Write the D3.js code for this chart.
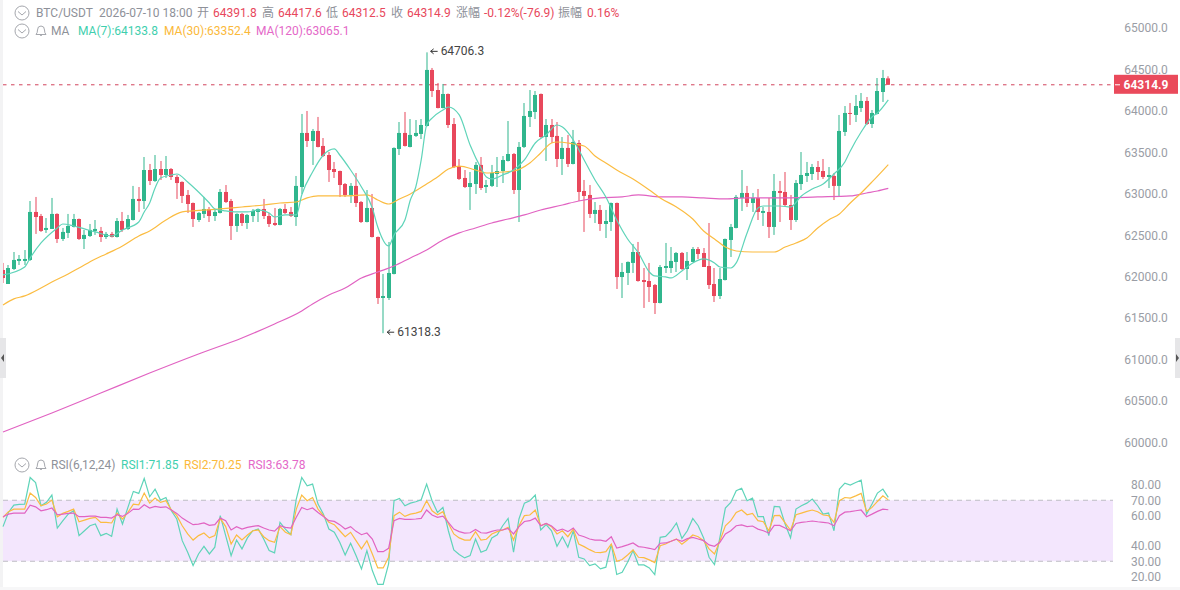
<!DOCTYPE html>
<html>
<head>
<meta charset="utf-8">
<title>BTC/USDT</title>
<script src="https://cdn.jsdelivr.net/npm/d3@7/dist/d3.min.js"></script>
<style>
  html, body { margin: 0; padding: 0; background: #fff; overflow: hidden; }
  svg { display: block; font-family: Roboto, "Noto Sans CJK SC", sans-serif; }
</style>
</head>
<body>
<svg id="chart" width="1180" height="590"></svg>
<script>
// OHLC for each hourly candle, oldest first
const opens = [62081,61912,62093,62190,62190,62202,62781,62732,62564,62576,62757,62455,62528,62600,62696,62455,62491,62552,62552,62479,62516,62479,62672,62576,62684,62938,62913,63287,63155,63299,63227,63299,63203,63143,62986,62889,62684,62757,62817,62732,62769,63022,62913,62612,62757,62648,62732,62781,62817,62732,62648,62624,62817,62781,62720,63082,63734,63637,63758,63577,63468,63299,63275,63118,62986,63095,62901,62660,62829,62479,61743,61743,62033,63541,63734,63565,63698,63722,63818,64494,64252,64035,64204,63842,63335,63191,63082,63118,63348,63082,63095,63239,63275,63396,63480,63046,63565,63927,63987,64204,63685,63830,63698,63420,63553,63360,63613,63034,62986,62757,62805,62636,62660,62889,61996,62045,62166,62298,61960,61948,61900,61683,62105,62105,62178,62286,62093,62178,62334,62286,62129,61912,61767,61960,62443,62588,62950,63010,62889,62950,62769,62781,62600,63034,63022,62865,62684,63118,63215,63239,63323,63275,63203,63215,63095,63746,63975,63951,64035,64120,63842,63963,64228,64391.8];
const highs = [62166,62141,62298,62262,62322,62913,62962,62757,62708,62950,62765,62588,62757,62757,62702,62564,62636,62684,62600,62540,62540,62708,62781,62745,63095,63082,63444,63360,63468,63396,63456,63311,63227,63150,63046,62895,62781,62962,62841,62817,63058,63106,62938,62765,62769,62757,62817,62823,62938,62769,62829,62829,62877,62841,63215,63963,63999,63782,63927,63673,63504,63384,63280,63130,63130,63251,62913,63046,62998,62485,62033,62419,63560,63866,63987,63902,63890,63902,64706.3,64518,64337,64325,64210,63914,63420,63287,63263,63384,63444,63167,63348,63444,63456,63878,63492,63625,64095,64252,64240,64210,63902,63902,63866,63685,63710,63770,63649,63167,63106,62901,62865,62805,62895,62895,62166,62184,62395,62419,62105,62166,61912,62141,62407,62358,62298,62298,62298,62358,62358,62346,62648,62105,62105,62460,62636,62986,63287,63095,63010,63058,62841,62950,63239,63155,63263,62986,63167,63504,63384,63360,63396,63420,63323,63251,63951,64059,64095,64192,64216,64168,64011,64397,64494,64417.6];
const lows = [61924,61912,62081,62141,62141,62190,62516,62540,62528,62576,62407,62431,62467,62594,62443,62334,62479,62504,62419,62455,62473,62473,62540,62564,62678,62781,62817,63106,63143,63167,63191,63167,62938,62889,62769,62600,62660,62708,62660,62672,62763,62889,62443,62540,62612,62576,62660,62660,62696,62600,62612,62620,62757,62720,62612,62998,63565,63348,63560,63444,63143,63191,62962,62962,62889,62841,62648,62655,62473,61671,61318.3,61719,62028,63468,63570,63560,63686,63661,63813,64168,64030,64030,63794,63311,63167,63070,62805,62998,63046,63010,63082,63082,63130,63390,62998,62660,63553,63806,63902,63673,63396,63613,63323,63227,63323,63355,62913,62540,62708,62648,62552,62467,62552,61852,61743,61900,62045,61940,61623,61695,61550,61678,62045,62045,62057,62081,61960,62175,62214,62117,61852,61695,61731,61955,62238,62583,62793,62841,62781,62684,62612,62467,62504,62660,62853,62564,62660,63046,63143,63167,63167,63179,63070,62925,62974,63698,63830,63866,63987,63830,63794,63958,64108,64312.5];
const closes = [61984,62105,62202,62214,62214,62781,62720,62552,62588,62757,62455,62540,62612,62696,62455,62504,62564,62576,62479,62516,62479,62672,62564,62696,62938,62913,63287,63155,63299,63227,63299,63203,63130,62974,62877,62696,62769,62817,62732,62781,63022,62901,62612,62757,62648,62745,62793,62817,62732,62636,62624,62817,62769,62732,63095,63734,63637,63758,63565,63456,63287,63263,63106,62986,63095,62889,62660,62829,62479,61743,61767,62045,63553,63734,63577,63710,63734,63830,64494,64240,64035,64204,63830,63323,63179,63082,63130,63348,63070,63106,63251,63275,63408,63480,63046,63565,63939,63999,64192,63685,63830,63685,63420,63553,63360,63625,63022,62974,62757,62805,62636,62672,62889,61996,62057,62178,62298,61948,61936,61876,61683,62117,62129,62190,62286,62093,62190,62334,62274,62117,61900,61767,61972,62455,62600,62962,63010,62889,62950,62781,62793,62600,63034,63010,62865,62684,63130,63227,63251,63323,63263,63203,63227,63095,63758,63975,63963,64059,64120,63842,63975,64240,64397,64314.9];

// Moving averages, sampled at the listed candle numbers
const ma7Index = [0,4,5,7,10,11,13,15,17,20,22,25,26,27,28,29,31,32,34,36,38,39,41,43,45,47,49,50,52,54,55,57,59,61,62,64,66,68,69,71,72,74,75,76,77,78,79,81,82,84,86,88,89,90,92,94,96,98,100,102,103,105,107,109,111,113,115,117,119,120,122,123,125,127,129,131,132,134,135,137,139,140,143,145,147,149,151,153,155,156,158,160,161,163];
const ma7Values = [62021,62117,62226,62407,62588,62636,62612,62576,62540,62491,62564,62660,62781,62889,63070,63191,63227,63239,63143,63022,62889,62817,62793,62781,62781,62805,62769,62720,62745,62745,62986,63263,63468,63541,63468,63287,63082,62829,62600,62371,62504,62684,62925,63082,63408,63830,63914,64011,64047,63951,63589,63311,63203,63179,63227,63287,63408,63613,63710,63830,63806,63649,63408,63167,62962,62684,62455,62286,62057,62009,61997,61985,62069,62166,62214,62166,62117,62105,62166,62528,62829,62853,62853,62841,62974,63058,63118,63239,63384,63517,63746,63927,63975,64133.8];
const ma30Index = [0,2,4,7,9,12,14,17,19,22,25,27,30,33,35,40,44,48,51,54,56,58,63,67,69,71,73,75,78,80,82,84,87,89,92,94,97,99,101,102,105,107,109,111,113,116,119,121,124,127,129,131,133,135,138,142,144,146,148,150,152,154,156,158,160,163];
const ma30Values = [61659,61732,61768,61864,61936,62033,62105,62214,62274,62371,62491,62552,62684,62781,62793,62817,62841,62865,62889,62901,62950,62974,62974,62986,62925,62877,62938,62998,63118,63203,63299,63335,63287,63251,63263,63275,63372,63492,63613,63625,63601,63577,63456,63372,63287,63179,63046,62950,62841,62696,62552,62455,62358,62310,62298,62298,62358,62407,62467,62588,62684,62757,62889,63010,63143,63352.4];
const ma120Index = [0,9,18,27,36,44,50,55,57,60,63,66,69,72,75,78,81,84,87,90,93,96,99,103,106,110,114,117,121,125,129,133,137,143,150,156,159,161,163];
const ma120Values = [60127,60356,60597,60838,61068,61261,61430,61586,61671,61780,61864,61985,62057,62129,62226,62322,62443,62528,62588,62648,62696,62745,62805,62865,62913,62950,62962,62986,62962,62962,62950,62938,62950,62950,62962,62974,63010,63034,63065.1];

// RSI readings, one for each candle
const rsi1 = [52.7,62.0,66.8,67.3,67.5,84.9,81.6,66.4,68.6,73.4,51.8,56.4,60.9,63.1,46.8,50.0,53.3,54.4,46.8,48.3,46.3,64.2,54.4,65.3,75.8,74.5,84.3,72.3,77.3,70.1,71.8,63.1,57.7,43.5,35.9,27.2,34.8,39.8,34.8,39.2,59.9,46.8,33.7,43.9,38.1,45.3,50.0,51.1,44.6,37.0,35.5,55.5,51.1,47.4,70.8,84.9,79.5,80.6,67.5,60.9,51.1,49.0,42.4,34.1,41.8,33.7,25.0,37.0,23.9,14.8,14.8,28.3,69.7,71.2,66.4,68.1,69.0,70.3,80.6,69.7,62.0,65.3,50.0,37.4,34.4,32.2,33.7,44.6,35.9,37.4,45.3,47.4,53.3,58.1,35.9,57.7,68.1,69.7,73.4,50.5,54.0,50.0,39.8,46.1,39.2,50.0,32.6,31.5,27.2,28.3,25.0,26.1,41.3,21.3,22.8,29.3,37.0,27.6,27.6,25.6,21.3,45.7,46.3,50.0,55.1,45.0,50.0,58.1,53.3,45.3,32.6,27.8,45.7,64.9,68.6,76.2,77.9,69.7,71.4,59.2,59.2,46.8,66.0,65.7,54.4,45.3,64.2,66.4,68.1,70.8,66.4,60.9,61.6,50.0,77.3,81.2,79.9,81.6,83.2,60.9,67.5,74.7,77.3,71.85];
const rsi2 = [58.8,62.5,64.2,64.2,64.2,74.7,71.8,66.4,67.5,70.1,59.2,61.4,62.7,64.2,55.9,57.0,58.1,58.8,55.5,55.5,55.1,61.4,57.7,62.0,67.5,67.0,74.7,68.1,71.4,68.6,69.7,63.6,59.9,53.3,47.9,43.9,46.8,48.5,45.3,46.8,58.1,52.7,41.3,47.2,43.9,47.2,50.0,50.5,46.1,43.5,42.4,52.7,49.0,47.4,64.2,73.4,69.7,71.8,64.2,59.9,55.5,54.0,50.0,46.1,49.0,43.5,38.1,43.5,34.8,25.6,25.6,32.6,59.9,62.2,59.4,60.9,61.6,62.7,69.7,63.1,60.5,62.5,54.8,47.9,45.3,43.9,43.9,49.4,43.9,44.4,47.9,49.4,50.5,52.2,43.9,53.3,59.9,60.3,63.6,53.3,54.8,52.7,47.9,50.0,46.1,51.1,41.3,39.6,37.6,35.9,35.7,36.3,41.3,30.0,31.1,34.1,37.4,32.6,32.4,30.9,29.1,40.2,41.3,43.1,44.6,41.1,43.9,47.2,46.1,43.5,38.1,34.8,43.5,53.3,56.6,62.0,63.6,60.5,61.4,56.6,55.9,50.0,59.9,60.1,55.1,50.3,60.5,61.6,62.7,63.6,62.5,60.3,59.9,55.5,69.7,71.8,71.4,72.9,74.5,62.7,65.3,69.2,72.9,70.25];
const rsi3 = [59.2,60.9,61.6,61.6,61.6,66.8,65.7,63.1,63.8,64.9,60.5,60.9,61.4,61.6,59.2,59.2,59.6,59.6,58.8,58.8,58.3,60.5,59.4,61.4,64.2,64.0,67.0,64.9,66.0,65.3,65.7,63.6,61.4,58.3,56.1,54.0,54.4,55.1,53.5,54.0,58.3,56.6,50.5,52.7,51.1,52.2,52.9,53.3,51.8,50.5,49.8,53.3,52.2,51.8,58.8,65.3,63.8,64.9,62.0,59.4,56.6,56.1,54.0,51.1,52.7,49.6,47.4,48.5,44.6,36.3,36.3,38.5,56.6,58.1,57.5,57.5,57.7,58.1,63.6,60.3,58.8,59.6,55.5,51.1,49.4,48.5,48.7,50.9,48.7,48.5,49.6,50.5,50.5,51.6,47.9,52.7,56.1,56.6,58.3,53.3,54.8,53.1,50.0,51.1,49.4,51.8,47.2,46.1,44.6,43.9,43.9,43.1,46.1,38.7,39.6,40.7,42.0,39.6,39.2,38.5,37.6,41.8,42.0,43.1,44.4,43.1,44.8,45.7,44.6,43.5,40.7,39.8,42.4,47.9,50.0,53.3,53.8,52.7,53.1,51.1,50.0,48.5,53.5,53.5,51.8,50.0,54.8,55.5,55.9,56.4,55.9,55.5,55.1,53.3,59.9,62.2,62.5,63.1,63.6,59.2,60.9,62.7,64.2,63.78];

// Axis ticks
const priceTicks = [60000,60500,61000,61500,62000,62500,63000,63500,64000,64500,65000];
const rsiTicks = [20,30,40,60,70,80];
const rsiBand = [30,70];

// Header strings
const symbolLabel = "BTC/USDT";
const timeLabel = "2026-07-10 18:00";
const quoteFields = [["开","64391.8"],["高","64417.6"],["低","64312.5"],["收","64314.9"],["涨幅","-0.12%(-76.9)"],["振幅","0.16%"]];
const lastPrice = 64314.9, maxPrice = 64706.3, minPrice = 61318.3;

const GREEN = "#30b68d", RED = "#e8485c", GREY = "#9a9da5";
const MA7C = "#5fd4b9", MA30C = "#fbbc41", MA120C = "#e163c2";

const svg = d3.select("#chart");
const x = d3.scaleLinear().domain([0, opens.length - 1]).range([3, 888.3]);
const yPrice = d3.scaleLinear().domain([60000, 65000]).range([442.5, 28]);
const yRsi = d3.scaleLinear().domain([20, 80]).range([576.5, 485]);

// Window frame
svg.append("rect").attr("width", 1180).attr("height", 590).attr("fill", "#fff");
svg.append("rect").attr("width", 3).attr("height", 590).attr("fill", "#f3f3f4");
svg.append("rect").attr("y", 587).attr("width", 1180).attr("height", 3).attr("fill", "#f7f7f8");

svg.append("clipPath").attr("id", "plotClip")
  .append("rect").attr("x", 3).attr("y", 0).attr("width", 1110).attr("height", 590);

// Last price guide
svg.append("line")
  .attr("x1", 3).attr("x2", 1114)
  .attr("y1", yPrice(lastPrice)).attr("y2", yPrice(lastPrice))
  .attr("stroke", "#d2435c").attr("stroke-width", 1).attr("stroke-dasharray", "3.5 4.5");

// Candles
const candles = svg.append("g").attr("clip-path", "url(#plotClip)")
  .selectAll("g").data(d3.range(opens.length)).join("g");
const candleColor = i => closes[i] >= opens[i] ? GREEN : RED;
candles.append("rect")
  .attr("x", i => Math.round(x(i)) - 0.5).attr("width", 1)
  .attr("y", i => yPrice(highs[i]))
  .attr("height", i => yPrice(lows[i]) - yPrice(highs[i]))
  .attr("fill", candleColor);
candles.append("rect")
  .attr("x", i => Math.round(x(i)) - 2).attr("width", 4)
  .attr("y", i => yPrice(Math.max(opens[i], closes[i])))
  .attr("height", i => Math.max(1, Math.abs(yPrice(opens[i]) - yPrice(closes[i]))))
  .attr("fill", candleColor);

// Moving averages
const maLine = idx => d3.line().curve(d3.curveMonotoneX)
  .x((d, i) => x(idx[i])).y(d => yPrice(d));
[[ma120Index, ma120Values, MA120C], [ma30Index, ma30Values, MA30C], [ma7Index, ma7Values, MA7C]]
  .forEach(([idx, vals, color]) => {
    svg.append("path").attr("d", maLine(idx)(vals))
      .attr("fill", "none").attr("stroke", color).attr("stroke-width", 1.2);
  });

// High and low markers
function extremeLabel(i, value) {
  const px = x(i), py = yPrice(value) - 1;
  const g = svg.append("g");
  g.append("path")
    .attr("d", `M${px + 11} ${py}H${px + 4}M${px + 7} ${py - 2.5}L${px + 4} ${py}L${px + 7} ${py + 2.5}`)
    .attr("fill", "none").attr("stroke", "#333").attr("stroke-width", 1);
  g.append("text").attr("x", px + 14).attr("y", py + 4)
    .attr("font-size", 12).attr("fill", "#444").text(value.toFixed(1));
}
extremeLabel(closes.length - 86, maxPrice);
extremeLabel(closes.length - 94, minPrice);

// RSI panel
svg.append("rect")
  .attr("x", 3).attr("width", 1110)
  .attr("y", yRsi(rsiBand[1])).attr("height", yRsi(rsiBand[0]) - yRsi(rsiBand[1]))
  .attr("fill", "#f3e6fd");
rsiBand.forEach(v => svg.append("line")
  .attr("x1", 3).attr("x2", 1113).attr("y1", yRsi(v)).attr("y2", yRsi(v))
  .attr("stroke", "#bdbcc4").attr("stroke-width", 1).attr("stroke-dasharray", "5 4"));
const rsiLine = d3.line().x((d, i) => x(i)).y(d => yRsi(d));
[[rsi1, MA7C], [rsi2, MA30C], [rsi3, MA120C]].forEach(([vals, color]) => {
  svg.append("path").attr("d", rsiLine(vals))
    .attr("fill", "none").attr("stroke", color).attr("stroke-width", 1.2);
});

// Value axes
function valueAxis(scale, ticks, fmt) {
  const g = svg.append("g").attr("transform", "translate(1146,0)")
    .call(d3.axisRight(scale).tickValues(ticks).tickSize(0).tickFormat(fmt));
  g.select(".domain").remove();
  g.selectAll("text").attr("x", 0).attr("text-anchor", "middle")
    .attr("font-size", 12).attr("fill", GREY)
    .style("font-family", "Roboto, sans-serif");
}
valueAxis(yPrice, priceTicks, d3.format(".1f"));
valueAxis(yRsi, rsiTicks, d3.format(".2f"));

// Last price tag
const tagY = yPrice(lastPrice);
svg.append("rect").attr("x", 1114).attr("y", tagY - 10).attr("width", 64).attr("height", 19).attr("fill", "#ea4a5b");
svg.append("line").attr("x1", 1115).attr("x2", 1120).attr("y1", tagY).attr("y2", tagY).attr("stroke", "#fff");
svg.append("text").attr("x", 1146).attr("y", tagY + 4).attr("text-anchor", "middle")
  .attr("font-size", 12).attr("font-weight", 700).attr("fill", "#fff").text(lastPrice.toFixed(1));

// Header icons
function chevronIcon(cx, cy) {
  svg.append("circle").attr("cx", cx).attr("cy", cy).attr("r", 7)
    .attr("fill", "none").attr("stroke", "#a5a7ad").attr("stroke-width", 1);
  svg.append("path").attr("d", `M${cx - 4} ${cy - 1.5}L${cx} ${cy + 2}L${cx + 4} ${cy - 1.5}`)
    .attr("fill", "none").attr("stroke", "#a5a7ad").attr("stroke-width", 1);
}
function bellIcon(cx, cy) {
  svg.append("path")
    .attr("d", `M${cx - 5} ${cy + 3.5}Q${cx - 3.5} ${cy + 2} ${cx - 3.5} ${cy - 1}Q${cx - 3.5} ${cy - 5} ${cx} ${cy - 5}Q${cx + 3.5} ${cy - 5} ${cx + 3.5} ${cy - 1}Q${cx + 3.5} ${cy + 2} ${cx + 5} ${cy + 3.5}ZM${cx - 1.5} ${cy + 3.5}Q${cx} ${cy + 6} ${cx + 1.5} ${cy + 3.5}`)
    .attr("fill", "none").attr("stroke", "#a5a7ad").attr("stroke-width", 1);
}
const label = (px, py, txt, color) => svg.append("text").attr("x", px).attr("y", py)
  .attr("font-size", 12).attr("fill", color).text(txt);

// First header row
chevronIcon(22, 13);
label(36, 17, symbolLabel, "#8e9199");
label(99, 17, timeLabel, "#8e9199");
const fieldX = [[197, 213], [262, 278], [326, 342], [391, 407], [456, 484], [558, 587]];
quoteFields.forEach(([name, val], i) => {
  label(fieldX[i][0], 17, name, "#8e9199");
  label(fieldX[i][1], 17, val, RED);
});

// Moving average legend
chevronIcon(22, 31);
bellIcon(41, 31);
label(51, 35, "MA", "#8e9199");
label(78, 35, "MA(7):64133.8", "#3fcfae");
label(164, 35, "MA(30):63352.4", "#fbb93a");
label(256, 35, "MA(120):63065.1", "#e468c8");

// RSI legend
chevronIcon(22, 465);
bellIcon(41, 465);
label(51, 469, "RSI(6,12,24)", "#8e9199");
label(121, 469, "RSI1:71.85", "#3fcfae");
label(184, 469, "RSI2:70.25", "#fbb93a");
label(248, 469, "RSI3:63.78", "#e468c8");

// Pane collapse handles
svg.append("rect").attr("x", 0).attr("y", 338).attr("width", 6).attr("height", 40).attr("fill", "#e6e6e8");
svg.append("path").attr("d", "M4 354L1 358L4 362Z").attr("fill", "#555");
svg.append("rect").attr("x", 1175).attr("y", 338).attr("width", 5).attr("height", 40).attr("fill", "#e6e6e8");
svg.append("path").attr("d", "M1176 354L1179 358L1176 362Z").attr("fill", "#555");
</script>
</body>
</html>
